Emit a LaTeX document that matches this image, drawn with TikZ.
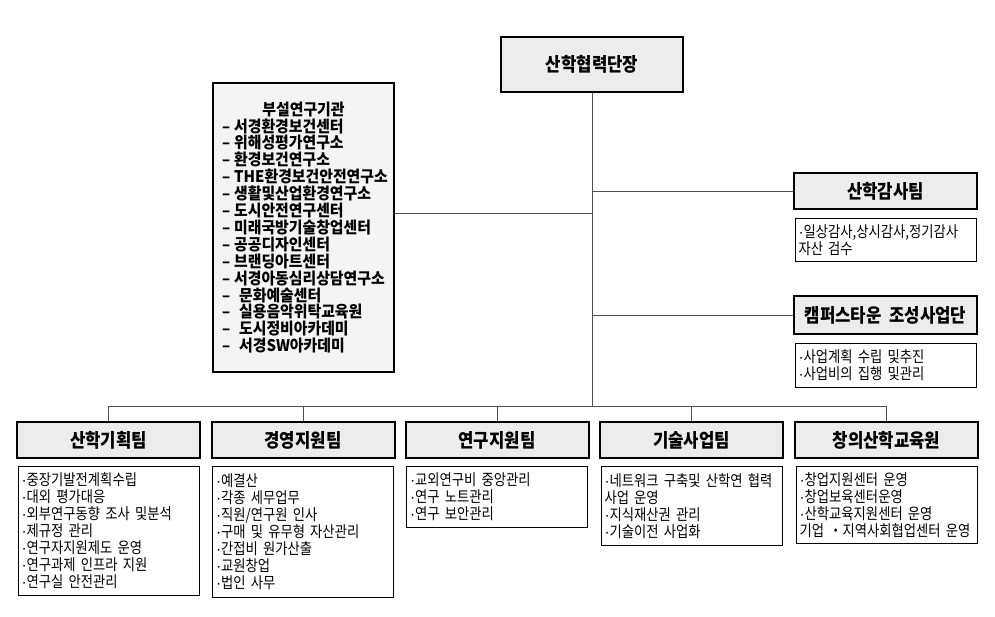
\documentclass[tikz,border=0pt]{standalone}
\usepackage{fontspec}
\usepackage{xcolor}
\usepackage{tikz}
\usetikzlibrary{
  positioning
}
\definecolor{headgray}{RGB}{236, 236, 236}
\definecolor{labgray}{RGB}{244, 244, 244}
\definecolor{linkgray}{RGB}{80, 80, 80}
\newfontfamily\krhead[FakeStretch=0.88]{Noto Sans CJK KR}
\newfontfamily\krlab[FakeStretch=0.93]{Noto Sans CJK KR}
\newfontfamily\krdesc[FakeStretch=0.86, WordSpace=0.6]{Noto Sans CJK KR}
\newfontfamily\latinfont{Liberation Sans}
\newcommand\itemdot{{\latinfont ·}}
\newcommand\labitem[1]{\mbox{–\kern4pt #1}}
\tikzset{
  headbox/.style={draw=black, fill=headgray, line width=2pt, minimum width=183pt,
    minimum height=36pt, inner sep=0pt, font=\krhead\bfseries\fontsize{19}{22}\selectfont},
  descbox/.style={draw=black, fill=white, line width=0.9pt, text width=174pt, align=left,
    inner xsep=3.5pt, inner ysep=3pt, font=\krdesc\fontsize{15.5}{17}\selectfont},
  link/.style={draw=linkgray, line width=1pt}
}

\begin{document}
\begin{tikzpicture}[x=1pt, y=-1pt]
\useasboundingbox (0,0) rectangle (995,616);

\node[headbox, minimum width=182pt, minimum height=55pt] (chief) at (592,64.5) {산학협력단장};

\node[draw=black, fill=labgray, line width=2pt, text width=163pt, inner xsep=9pt,
      minimum height=289pt, align=left,
      font=\krlab\bfseries\fontsize{16}{16.9}\selectfont]
  (lab) at (303.5,227.5)
  {\makebox[163pt]{부설연구기관}\\
   \labitem{서경환경보건센터}\\
   \labitem{위해성평가연구소}\\
   \labitem{환경보건연구소}\\
   \labitem{THE환경보건안전연구소}\\
   \labitem{생활및산업환경연구소}\\
   \labitem{도시안전연구센터}\\
   \labitem{미래국방기술창업센터}\\
   \labitem{공공디자인센터}\\
   \labitem{브랜딩아트센터}\\
   \labitem{서경아동심리상담연구소}\\
   \labitem{\kern5pt 문화예술센터}\\
   \labitem{\kern5pt 실용음악위탁교육원}\\
   \labitem{\kern5pt 도시정비아카데미}\\
   \labitem{\kern5pt 서경SW아카데미}};

\node[headbox] (audit) at (885.5,191) {산학감사팀};
\node[descbox, minimum height=43pt, below=8pt of audit] (auditjob)
  {\itemdot 일상감사,상시감사,정기감사\\자산 검수};

\node[headbox, minimum height=38pt] (town) at (885.5,315) {캠퍼스타운\ \ 조성사업단};
\node[descbox, minimum height=44pt, below=8pt of town] (townjob)
  {\itemdot 사업계획 수립 및추진\\\itemdot 사업비의 집행 및관리};

\node[headbox] (plan) at (108.5,440) {산학기획팀};
\node[headbox] (admin) at (303,440) {경영지원팀};
\node[headbox] (research) at (497,440) {연구지원팀};
\node[headbox] (tech) at (691.5,440) {기술사업팀};
\node[headbox] (edu) at (886.5,440) {창의산학교육원};

\node[descbox, minimum height=129pt, below=7pt of plan] (planjob)
  {\itemdot 중장기발전계획수립\\
   \itemdot 대외 평가대응\\
   \itemdot 외부연구동향 조사 및분석\\
   \itemdot 제규정 관리\\
   \itemdot 연구자지원제도 운영\\
   \itemdot 연구과제 인프라 지원\\
   \itemdot 연구실 안전관리};
\node[descbox, minimum height=131pt, below=7pt of admin] (adminjob)
  {\itemdot 예결산\\
   \itemdot 각종 세무업무\\
   \itemdot 직원/연구원 인사\\
   \itemdot 구매 및 유무형 자산관리\\
   \itemdot 간접비 원가산출\\
   \itemdot 교원창업\\
   \itemdot 법인 사무};
\node[descbox, minimum height=61pt, below=7pt of research] (researchjob)
  {\itemdot 교외연구비 중앙관리\\
   \itemdot 연구 노트관리\\
   \itemdot 연구 보안관리};
\node[descbox, minimum height=79pt, below=7pt of tech] (techjob)
  {\itemdot 네트워크 구축및 산학연 협력\\
   사업 운영\\
   \itemdot 지식재산권 관리\\
   \itemdot 기술이전 사업화};
\node[descbox, minimum height=77pt, below=7pt of edu] (edujob)
  {\itemdot 창업지원센터 운영\\
   \itemdot 창업보육센터운영\\
   \itemdot 산학교육지원센터 운영\\
   기업 ・지역사회협업센터 운영};

\coordinate (bus) at (594,406);
\coordinate (labport) at ([yshift=14.5pt]lab.east);

\draw[link] (chief.south) -- (chief.south |- bus);
\draw[link] (labport) -- (labport -| chief.south);
\draw[link] (audit.west) -- (audit.west -| chief.south);
\draw[link] (town.west) -- (town.west -| chief.south);
\draw[link] (plan.north |- bus) -- (edu.north |- bus);
\draw[link] (plan.north) -- (plan.north |- bus);
\draw[link] (admin.north) -- (admin.north |- bus);
\draw[link] (research.north) -- (research.north |- bus);
\draw[link] (tech.north) -- (tech.north |- bus);
\draw[link] (edu.north) -- (edu.north |- bus);
\end{tikzpicture}
\end{document}
